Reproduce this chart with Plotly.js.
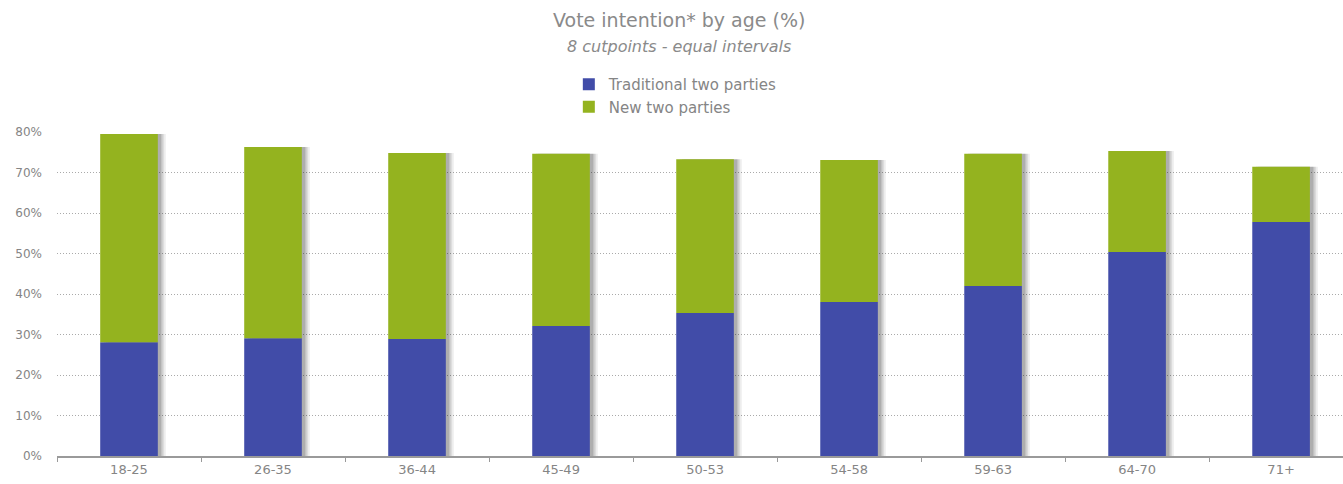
<!DOCTYPE html>
<html>
<head>
<meta charset="utf-8">
<script src="https://cdn.plot.ly/plotly-3.0.1.min.js"></script>
<style>html,body{margin:0;padding:0;background:#fff;}#chart{width:1343px;height:484px;}</style>
</head>
<body>
<div id="chart"></div>
<script>
const categories = ["18-25","26-35","36-44","45-49","50-53","54-58","59-63","64-70","71+"];
const traditional = [28.1, 29.1, 28.9, 32.1, 35.3, 38.0, 42.0, 50.4, 57.8];
const newParties = [51.4, 47.2, 45.9, 42.5, 38.0, 35.1, 32.6, 24.9, 13.6];
const yTickVals = [0,10,20,30,40,50,60,70,80];
const yTickText = ["0%","10%","20%","30%","40%","50%","60%","70%","80%"];
const titleText = "Vote intention* by age (%)";
const subtitleText = "8 cutpoints - equal intervals";

const totals = traditional.map((v,i)=>v+newParties[i]);
const W = 0.40;
const font = "DejaVu Sans, Verdana, sans-serif";
const gray = "#858585";

function shadow(dx, alpha){
  return {type:"bar", x:categories, y:totals, width:W, offset:-W/2+dx,
    marker:{color:"rgba(0,0,0,"+alpha+")", line:{width:0}}, showlegend:false, hoverinfo:"skip"};
}
const blue = {type:"bar", name:"Traditional two parties", x:categories, y:traditional, width:W,
  marker:{color:"#414ca8", line:{width:0}}};
const green = {type:"bar", name:"New two parties", x:categories, y:newParties, base:traditional, width:W,
  marker:{color:"#94b31f", line:{width:0}}};

const plotTop = 131, plotBottom = 456, plotH = plotBottom - plotTop;
const py = (pix) => (plotBottom - pix) / plotH;

const layout = {
  width:1343, height:484,
  margin:{l:57, r:0, t:plotTop, b:484-plotBottom},
  paper_bgcolor:"#fff", plot_bgcolor:"#fff",
  barmode:"overlay",
  font:{family:font, color:gray},
  annotations:[
    {text:titleText, xref:"paper", yref:"paper", x:0.4837, xanchor:"center", y:py(20), yanchor:"middle",
     showarrow:false, font:{family:font, size:19, color:"#8a8a8a"}},
    {text:"<i>"+subtitleText+"</i>", xref:"paper", yref:"paper", x:0.4837, xanchor:"center", y:py(46), yanchor:"middle",
     showarrow:false, font:{family:font, size:16, color:"#8a8a8a"}}
  ],
  legend:{orientation:"v", x:0.398, xanchor:"left", y:py(68), yanchor:"top",
    font:{family:font, size:15, color:gray}, itemwidth:30, tracegroupgap:0, traceorder:"normal",
    bgcolor:"rgba(0,0,0,0)"},
  xaxis:{type:"category", range:[-0.5, 8.43], showgrid:false, zeroline:false,
    showline:true, linecolor:"#9a9a9a", linewidth:2,
    ticks:"outside", tickson:"boundaries", ticklen:4, tickcolor:"#9a9a9a", tickwidth:1,
    tickfont:{family:font, size:13, color:gray}, fixedrange:true},
  yaxis:{range:[0, 80*plotH/(plotH-1)], tickvals:yTickVals, ticktext:yTickText, showgrid:true,
    gridcolor:"#aaaaaa", griddash:"1px,2px", gridwidth:1, zeroline:false, showline:false,
    ticks:"", ticklabelstandoff:14, tickfont:{family:font, size:12, color:gray}, fixedrange:true}
};

Plotly.newPlot("chart", [shadow(0.055,0.07), shadow(0.04,0.12), shadow(0.025,0.16), blue, green], layout, {displayModeBar:false, staticPlot:true});
</script>
</body>
</html>
